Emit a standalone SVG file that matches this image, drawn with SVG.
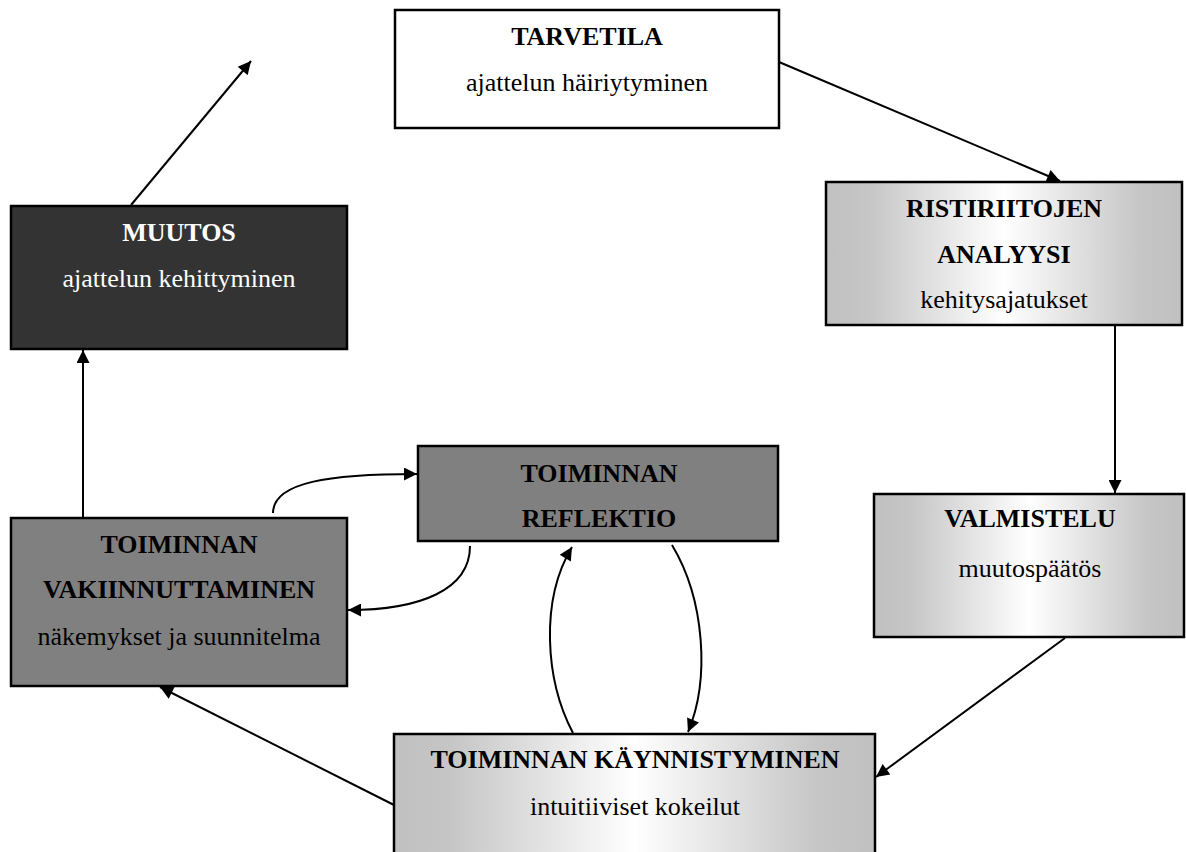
<svg xmlns="http://www.w3.org/2000/svg" width="1186" height="852" viewBox="0 0 1186 852">
  <style>
    .box { stroke: #000; stroke-width: 2.5; }
    .t { font-family: "Liberation Serif", "Times New Roman", serif; font-size: 26px; text-anchor: middle; fill: #000; }
    .b { font-weight: bold; }
    .light { fill: #fff; }
    .conn { fill: none; stroke: #000; stroke-width: 2; marker-end: url(#arrow); }
  </style>
  <defs>
    <marker id="arrow" viewBox="0 0 10 10" refX="10" refY="5" markerWidth="7.5" markerHeight="6.5" orient="auto">
      <path d="M0,0 L10,5 L0,10 z" fill="#000"/>
    </marker>
    <!-- horizontal shade: grey at both edges, white in the middle -->
    <linearGradient id="shade" x1="0" y1="0" x2="1" y2="0">
      <stop offset="0" stop-color="#c0c0c0"/>
      <stop offset="0.12" stop-color="#c6c6c6"/>
      <stop offset="0.5" stop-color="#ffffff"/>
      <stop offset="0.88" stop-color="#c6c6c6"/>
      <stop offset="1" stop-color="#c0c0c0"/>
    </linearGradient>
  </defs>

  <rect width="1186" height="852" fill="#fff"/>

  <g id="connectors">
    <path class="conn" d="M779,62 L1060,181"/>
    <path class="conn" d="M1115,325 L1115,493"/>
    <path class="conn" d="M1065,638 L876,777"/>
    <path class="conn" d="M394,805 L160,687"/>
    <path class="conn" d="M83,518 L83,350"/>
    <path class="conn" d="M131,205 L251,61"/>
    <path class="conn" d="M273,513 C273,482 330,474 417,474"/>
    <path class="conn" d="M470,546 C470,590 420,610 348,610"/>
    <path class="conn" d="M573,733 C545,680 540,600 572,547"/>
    <path class="conn" d="M672,545 C705,600 710,680 688,732"/>
  </g>

  <g id="tarvetila">
    <rect class="box" x="395" y="10" width="384" height="118" fill="#fff"/>
    <text class="t b" x="587" y="45">TARVETILA</text>
    <text class="t" x="587" y="91">ajattelun häiriytyminen</text>
  </g>

  <g id="ristiriitojen-analyysi">
    <rect class="box" x="826" y="182" width="356" height="143" fill="url(#shade)"/>
    <text class="t b" x="1004" y="217">RISTIRIITOJEN</text>
    <text class="t b" x="1004" y="263">ANALYYSI</text>
    <text class="t" x="1004" y="308">kehitysajatukset</text>
  </g>

  <g id="valmistelu">
    <rect class="box" x="874" y="494" width="310" height="143" fill="url(#shade)"/>
    <text class="t b" x="1030" y="527">VALMISTELU</text>
    <text class="t" x="1030" y="577">muutospäätös</text>
  </g>

  <g id="kaynnistyminen">
    <rect class="box" x="394" y="734" width="481" height="130" fill="url(#shade)"/>
    <text class="t b" x="635" y="768">TOIMINNAN KÄYNNISTYMINEN</text>
    <text class="t" x="635" y="815">intuitiiviset kokeilut</text>
  </g>

  <g id="reflektio">
    <rect class="box" x="418" y="446" width="360" height="95" fill="#808080"/>
    <text class="t b" x="599" y="482">TOIMINNAN</text>
    <text class="t b" x="599" y="527">REFLEKTIO</text>
  </g>

  <g id="vakiinnuttaminen">
    <rect class="box" x="11" y="518" width="336" height="168" fill="#808080"/>
    <text class="t b" x="179" y="553">TOIMINNAN</text>
    <text class="t b" x="179" y="598">VAKIINNUTTAMINEN</text>
    <text class="t" x="179" y="645">näkemykset ja suunnitelma</text>
  </g>

  <g id="muutos">
    <rect class="box" x="11" y="206" width="336" height="143" fill="#333333"/>
    <text class="t b light" x="179" y="241">MUUTOS</text>
    <text class="t light" x="179" y="287">ajattelun kehittyminen</text>
  </g>
</svg>
